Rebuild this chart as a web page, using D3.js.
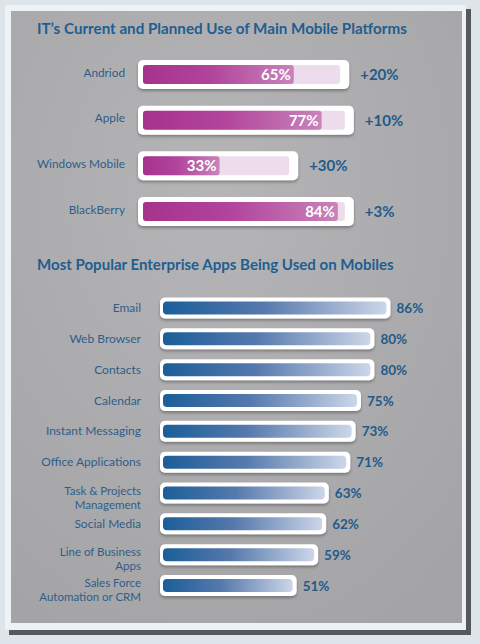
<!DOCTYPE html>
<html>
<head>
<meta charset="utf-8">
<script src="https://cdn.jsdelivr.net/npm/d3@7/dist/d3.min.js"></script>
<style>
  html, body { margin: 0; padding: 0; background: #dde5eb; }
  svg { display: block; }
  text { font-family: Lato, "Open Sans", sans-serif; }
</style>
</head>
<body>
<div id="chart"></div>
<script>
// ---- Data ----
const platforms = ["Andriod", "Apple", "Windows Mobile", "BlackBerry"];
const currentUse = [65, 77, 33, 84];
const plannedUse = [20, 10, 30, 3];

const apps = [
  ["Email"], ["Web Browser"], ["Contacts"], ["Calendar"], ["Instant Messaging"],
  ["Office Applications"], ["Task & Projects", "Management"], ["Social Media"],
  ["Line of Business", "Apps"], ["Sales Force", "Automation or CRM"]
];
const appValues = [86, 80, 80, 75, 73, 71, 63, 62, 59, 51];

const title1 = "IT\u2019s Current and Planned Use of Main Mobile Platforms";
const title2 = "Most Popular Enterprise Apps Being Used on Mobiles";

// ---- Setup ----
const W = 480, H = 644;
const svg = d3.select("#chart").append("svg").attr("width", W).attr("height", H);
const defs = svg.append("defs");

const panelGrad = defs.append("radialGradient").attr("id", "panelGrad")
  .attr("cx", "45%").attr("cy", "30%").attr("r", "80%");
panelGrad.append("stop").attr("offset", "0%").attr("stop-color", "#b5b5b7");
panelGrad.append("stop").attr("offset", "100%").attr("stop-color", "#a4a4a6");

const magGrad = defs.append("linearGradient").attr("id", "magGrad")
  .attr("x1", "0%").attr("x2", "100%");
magGrad.append("stop").attr("offset", "0%").attr("stop-color", "#a5338c");
magGrad.append("stop").attr("offset", "45%").attr("stop-color", "#b2449c");
magGrad.append("stop").attr("offset", "100%").attr("stop-color", "#c983bb");

const blueGrad = defs.append("linearGradient").attr("id", "blueGrad")
  .attr("x1", "0%").attr("x2", "100%");
blueGrad.append("stop").attr("offset", "0%").attr("stop-color", "#1b5e99");
blueGrad.append("stop").attr("offset", "45%").attr("stop-color", "#5679ad");
blueGrad.append("stop").attr("offset", "100%").attr("stop-color", "#ccd6e8");

const shadow = defs.append("filter").attr("id", "shadow")
  .attr("x", "-10%").attr("y", "-30%").attr("width", "120%").attr("height", "170%");
shadow.append("feDropShadow").attr("dx", 0).attr("dy", 2)
  .attr("stdDeviation", 1.5).attr("flood-color", "#000").attr("flood-opacity", 0.3);

// ---- Frame ----
svg.append("rect").attr("x", 9).attr("y", 9).attr("width", 462).attr("height", 626)
  .attr("fill", "#3d3f44").attr("opacity", 0.85);
svg.append("rect").attr("x", 5).attr("y", 5).attr("width", 461).attr("height", 625)
  .attr("fill", "#eef2f5");
svg.append("rect").attr("x", 11).attr("y", 11).attr("width", 451).attr("height", 612)
  .attr("fill", "url(#panelGrad)");

// Fit text to a target width by adjusting font size
function fitText(sel, target) {
  const node = sel.node();
  const fs = parseFloat(sel.attr("font-size"));
  const len = node.getComputedTextLength();
  if (len > 0) sel.attr("font-size", (fs * target / len).toFixed(2));
}

// ---- Titles ----
const t1 = svg.append("text").attr("x", 37).attr("y", 34)
  .attr("font-size", 15).attr("font-weight", 700).attr("fill", "#1f5e90").text(title1);
fitText(t1, 370);
const t2 = svg.append("text").attr("x", 37).attr("y", 270)
  .attr("font-size", 15).attr("font-weight", 700).attr("fill", "#1f5e90").text(title2);
fitText(t2, 357);

// ---- Top chart ----
const xTop = d3.scaleLinear().domain([0, 100]).range([143, 375]);
const yTop = d3.scalePoint().domain(platforms).range([74.5, 211.5]);
const topData = platforms.map((p, i) => ({ p, cur: currentUse[i], plan: plannedUse[i] }));

const topRows = svg.append("g").selectAll("g").data(topData).join("g")
  .attr("transform", d => `translate(0,${yTop(d.p)})`);

topRows.append("rect")
  .attr("x", xTop(0) - 5).attr("y", -14.5)
  .attr("width", d => xTop(d.cur + d.plan) - xTop(0) + 14).attr("height", 29)
  .attr("rx", 5).attr("fill", "#ffffff").attr("filter", "url(#shadow)");
topRows.append("rect")
  .attr("x", xTop(0)).attr("y", -9.5)
  .attr("width", d => xTop(d.cur + d.plan) - xTop(0)).attr("height", 19)
  .attr("rx", 3).attr("fill", "#eddcec");
topRows.append("rect")
  .attr("x", xTop(0)).attr("y", -9.5)
  .attr("width", d => xTop(d.cur) - xTop(0)).attr("height", 19)
  .attr("rx", 3).attr("fill", "url(#magGrad)");
topRows.append("text")
  .attr("x", d => xTop(d.cur) - 3).attr("y", 5.5)
  .attr("text-anchor", "end").attr("font-size", 15).attr("font-weight", 700)
  .attr("fill", "#ffffff").text(d => d.cur + "%");
topRows.append("text")
  .attr("x", d => xTop(d.cur + d.plan) + 20).attr("y", 5.5)
  .attr("font-size", 15).attr("font-weight", 700)
  .attr("fill", "#1f5a8a").text(d => "+" + d.plan + "%");
topRows.append("text")
  .attr("x", 125).attr("y", 2)
  .attr("text-anchor", "end").attr("font-size", 11.8)
  .attr("fill", "#2f5d89").text(d => d.p);

// ---- Bottom chart ----
const appKeys = apps.map(a => a.join(" "));
const xBot = d3.scaleLinear().domain([0, 100]).range([160, 428]);
const yBot = d3.scalePoint().domain(appKeys).range([308, 585.5]);
const botData = apps.map((a, i) => ({ key: appKeys[i], lines: a, v: appValues[i] }));

const botRows = svg.append("g").selectAll("g").data(botData).join("g")
  .attr("transform", d => `translate(0,${yBot(d.key)})`);

botRows.append("rect")
  .attr("x", xBot(0)).attr("y", -10.5)
  .attr("width", d => xBot(d.v) - xBot(0)).attr("height", 21)
  .attr("rx", 5).attr("fill", "#ffffff").attr("filter", "url(#shadow)");
botRows.append("rect")
  .attr("x", xBot(0) + 3).attr("y", -6.5)
  .attr("width", d => xBot(d.v) - xBot(0) - 7).attr("height", 13)
  .attr("rx", 4).attr("fill", "url(#blueGrad)");
botRows.append("text")
  .attr("x", d => xBot(d.v) + 6).attr("y", 5)
  .attr("font-size", 13.5).attr("font-weight", 700)
  .attr("fill", "#1f5a8a").text(d => d.v + "%");

// Single-line labels
botRows.filter(d => d.lines.length === 1).append("text")
  .attr("x", 141).attr("y", 4)
  .attr("text-anchor", "end").attr("font-size", 12).attr("fill", "#2f5d89")
  .text(d => d.lines[0]);
// Two-line labels as separate texts
botRows.filter(d => d.lines.length === 2).each(function (d) {
  const g = d3.select(this);
  d.lines.forEach((ln, j) => {
    g.append("text").attr("x", 141).attr("y", j === 0 ? 1.5 : 15.5)
      .attr("text-anchor", "end").attr("font-size", 11.5).attr("fill", "#2f5d89")
      .text(ln);
  });
});
</script>
</body>
</html>
